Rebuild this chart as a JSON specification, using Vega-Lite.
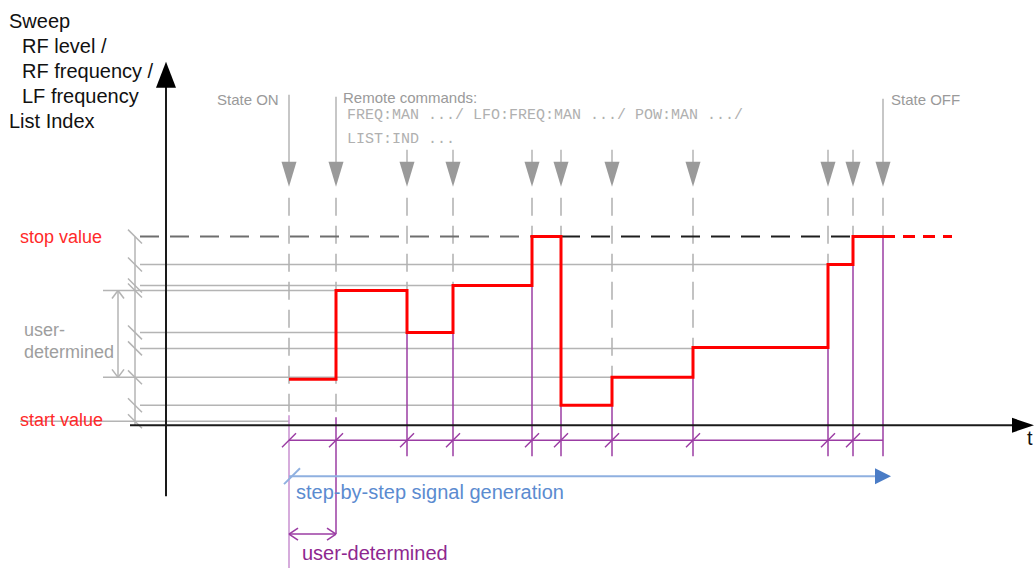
{
  "$schema": "https://vega.github.io/schema/vega-lite/v6.json",
  "width": 1034,
  "height": 569,
  "autosize": {"type": "fit", "contains": "padding"},
  "padding": 0,
  "background": "white",
  "config": {"view": {"stroke": null}},
  "datasets": {
    "segs": [
      {"k": "g", "x": 140, "y": 265, "x2": 828, "y2": 265},
      {"k": "g", "x": 140, "y": 286, "x2": 453, "y2": 286},
      {"k": "g", "x": 103, "y": 291, "x2": 336, "y2": 291},
      {"k": "g", "x": 140, "y": 333, "x2": 407, "y2": 333},
      {"k": "g", "x": 140, "y": 349, "x2": 693, "y2": 349},
      {"k": "g", "x": 103, "y": 378, "x2": 612, "y2": 378},
      {"k": "g", "x": 140, "y": 406, "x2": 561, "y2": 406},
      {"k": "g", "x": 20, "y": 422, "x2": 289, "y2": 422},
      {"k": "g", "x": 135, "y": 237, "x2": 135, "y2": 426},
      {"k": "g", "x": 128, "y": 230, "x2": 142, "y2": 244},
      {"k": "g", "x": 128, "y": 258, "x2": 142, "y2": 272},
      {"k": "g", "x": 128, "y": 279, "x2": 142, "y2": 293},
      {"k": "g", "x": 128, "y": 284, "x2": 142, "y2": 298},
      {"k": "g", "x": 128, "y": 326, "x2": 142, "y2": 340},
      {"k": "g", "x": 128, "y": 342, "x2": 142, "y2": 356},
      {"k": "g", "x": 128, "y": 371, "x2": 142, "y2": 385},
      {"k": "g", "x": 128, "y": 399, "x2": 142, "y2": 413},
      {"k": "g", "x": 128, "y": 415, "x2": 142, "y2": 429},
      {"k": "g", "x": 118, "y": 291, "x2": 118, "y2": 378},
      {"k": "g", "x": 118, "y": 291, "x2": 112, "y2": 299},
      {"k": "g", "x": 118, "y": 291, "x2": 124, "y2": 299},
      {"k": "g", "x": 118, "y": 378, "x2": 112, "y2": 370},
      {"k": "g", "x": 118, "y": 378, "x2": 124, "y2": 370},
      {"k": "g", "x": 289, "y": 95, "x2": 289, "y2": 165},
      {"k": "g", "x": 336, "y": 97, "x2": 336, "y2": 165},
      {"k": "g", "x": 407, "y": 150, "x2": 407, "y2": 165},
      {"k": "g", "x": 453, "y": 150, "x2": 453, "y2": 165},
      {"k": "g", "x": 532, "y": 150, "x2": 532, "y2": 165},
      {"k": "g", "x": 561, "y": 150, "x2": 561, "y2": 165},
      {"k": "g", "x": 612, "y": 150, "x2": 612, "y2": 165},
      {"k": "g", "x": 693, "y": 150, "x2": 693, "y2": 165},
      {"k": "g", "x": 828, "y": 150, "x2": 828, "y2": 165},
      {"k": "g", "x": 853, "y": 150, "x2": 853, "y2": 165},
      {"k": "g", "x": 883, "y": 99, "x2": 883, "y2": 165},
      {"k": "ed", "x": 289, "y": 198, "x2": 289, "y2": 416},
      {"k": "ed", "x": 336, "y": 198, "x2": 336, "y2": 416},
      {"k": "ed", "x": 407, "y": 198, "x2": 407, "y2": 291},
      {"k": "ed", "x": 453, "y": 198, "x2": 453, "y2": 286},
      {"k": "ed", "x": 532, "y": 198, "x2": 532, "y2": 237},
      {"k": "ed", "x": 561, "y": 198, "x2": 561, "y2": 237},
      {"k": "ed", "x": 612, "y": 198, "x2": 612, "y2": 378},
      {"k": "ed", "x": 693, "y": 198, "x2": 693, "y2": 349},
      {"k": "ed", "x": 828, "y": 198, "x2": 828, "y2": 265},
      {"k": "ed", "x": 853, "y": 198, "x2": 853, "y2": 237},
      {"k": "ed", "x": 883, "y": 198, "x2": 883, "y2": 237},
      {"k": "sd", "x": 140, "y": 237, "x2": 532, "y2": 237},
      {"k": "sd2", "x": 561, "y": 237, "x2": 853, "y2": 237},
      {"k": "p", "x": 407, "y": 333, "x2": 407, "y2": 457},
      {"k": "p", "x": 453, "y": 333, "x2": 453, "y2": 457},
      {"k": "p", "x": 532, "y": 286, "x2": 532, "y2": 457},
      {"k": "p", "x": 561, "y": 406, "x2": 561, "y2": 457},
      {"k": "p", "x": 612, "y": 406, "x2": 612, "y2": 457},
      {"k": "p", "x": 693, "y": 378, "x2": 693, "y2": 457},
      {"k": "p", "x": 828, "y": 349, "x2": 828, "y2": 457},
      {"k": "p", "x": 853, "y": 265, "x2": 853, "y2": 457},
      {"k": "p", "x": 883, "y": 237, "x2": 883, "y2": 457},
      {"k": "p", "x": 336, "y": 418, "x2": 336, "y2": 535},
      {"k": "p", "x": 289, "y": 441, "x2": 883, "y2": 441},
      {"k": "p", "x": 282, "y": 448, "x2": 296, "y2": 434},
      {"k": "p", "x": 329, "y": 448, "x2": 343, "y2": 434},
      {"k": "p", "x": 400, "y": 448, "x2": 414, "y2": 434},
      {"k": "p", "x": 446, "y": 448, "x2": 460, "y2": 434},
      {"k": "p", "x": 525, "y": 448, "x2": 539, "y2": 434},
      {"k": "p", "x": 554, "y": 448, "x2": 568, "y2": 434},
      {"k": "p", "x": 605, "y": 448, "x2": 619, "y2": 434},
      {"k": "p", "x": 686, "y": 448, "x2": 700, "y2": 434},
      {"k": "p", "x": 821, "y": 448, "x2": 835, "y2": 434},
      {"k": "p", "x": 846, "y": 448, "x2": 860, "y2": 434},
      {"k": "p", "x": 289, "y": 535, "x2": 336, "y2": 535},
      {"k": "p", "x": 289, "y": 535, "x2": 298, "y2": 529},
      {"k": "p", "x": 289, "y": 535, "x2": 298, "y2": 541},
      {"k": "p", "x": 336, "y": 535, "x2": 327, "y2": 529},
      {"k": "p", "x": 336, "y": 535, "x2": 327, "y2": 541},
      {"k": "pl", "x": 289, "y": 416, "x2": 289, "y2": 569},
      {"k": "ax", "x": 166, "y": 86, "x2": 166, "y2": 497},
      {"k": "ax", "x": 130, "y": 426, "x2": 1014, "y2": 426},
      {"k": "b", "x": 289, "y": 477, "x2": 877, "y2": 477},
      {"k": "b", "x": 284, "y": 485, "x2": 300, "y2": 469},
      {"k": "rd", "x": 883, "y": 237, "x2": 952, "y2": 237}
    ],
    "steps": [
      {"i": 0, "x": 289, "y": 380}, {"i": 1, "x": 336, "y": 380},
      {"i": 2, "x": 336, "y": 291}, {"i": 3, "x": 407, "y": 291},
      {"i": 4, "x": 407, "y": 333}, {"i": 5, "x": 453, "y": 333},
      {"i": 6, "x": 453, "y": 286}, {"i": 7, "x": 532, "y": 286},
      {"i": 8, "x": 532, "y": 237}, {"i": 9, "x": 561, "y": 237},
      {"i": 10, "x": 561, "y": 406}, {"i": 11, "x": 612, "y": 406},
      {"i": 12, "x": 612, "y": 378}, {"i": 13, "x": 693, "y": 378},
      {"i": 14, "x": 693, "y": 348}, {"i": 15, "x": 828, "y": 348},
      {"i": 16, "x": 828, "y": 265}, {"i": 17, "x": 853, "y": 265},
      {"i": 18, "x": 853, "y": 237}, {"i": 19, "x": 883, "y": 237}
    ],
    "heads": [
      {"k": "gd", "x": 289, "y": 174.5}, {"k": "gd", "x": 336, "y": 174.5},
      {"k": "gd", "x": 407, "y": 174.5}, {"k": "gd", "x": 453, "y": 174.5},
      {"k": "gd", "x": 532, "y": 174.5}, {"k": "gd", "x": 561, "y": 174.5},
      {"k": "gd", "x": 612, "y": 174.5}, {"k": "gd", "x": 693, "y": 174.5},
      {"k": "gd", "x": 828, "y": 174.5}, {"k": "gd", "x": 853, "y": 174.5},
      {"k": "gd", "x": 883, "y": 174.5},
      {"k": "up", "x": 166, "y": 75},
      {"k": "rt", "x": 1023, "y": 426},
      {"k": "br", "x": 883, "y": 477}
    ],
    "texts": [
      {"k": "lab", "t": "Sweep", "x": 9, "y": 28},
      {"k": "lab", "t": "RF level /", "x": 22, "y": 53},
      {"k": "lab", "t": "RF frequency /", "x": 22, "y": 78},
      {"k": "lab", "t": "LF frequency", "x": 22, "y": 103},
      {"k": "lab", "t": "List Index", "x": 9, "y": 128},
      {"k": "lab", "t": "t", "x": 1027, "y": 446},
      {"k": "note", "t": "State ON", "x": 217, "y": 105},
      {"k": "note", "t": "Remote commands:", "x": 343, "y": 103},
      {"k": "note", "t": "State OFF", "x": 891, "y": 105},
      {"k": "mono", "t": "FREQ:MAN .../ LFO:FREQ:MAN .../ POW:MAN .../", "x": 347, "y": 119},
      {"k": "mono", "t": "LIST:IND ...", "x": 347, "y": 143},
      {"k": "red", "t": "stop value", "x": 20, "y": 243},
      {"k": "red", "t": "start value", "x": 20, "y": 427},
      {"k": "ud", "t": "user-", "x": 24, "y": 337},
      {"k": "ud", "t": "determined", "x": 24, "y": 359},
      {"k": "blue", "t": "step-by-step signal generation", "x": 296, "y": 500},
      {"k": "purple", "t": "user-determined", "x": 302, "y": 561}
    ]
  },
  "encoding": {
    "x": {"field": "x", "type": "quantitative", "axis": null, "scale": {"domain": [0, 1034], "nice": false, "zero": false}},
    "y": {"field": "y", "type": "quantitative", "axis": null, "scale": {"domain": [0, 569], "reverse": true, "nice": false, "zero": false}}
  },
  "layer": [
    {"data": {"name": "segs"}, "transform": [{"filter": "datum.k === 'g'"}],
     "mark": {"type": "rule", "color": "#b4b4b4", "strokeWidth": 1.5},
     "encoding": {"x2": {"field": "x2"}, "y2": {"field": "y2"}}},
    {"data": {"name": "segs"}, "transform": [{"filter": "datum.k === 'ed'"}],
     "mark": {"type": "rule", "color": "#b0b0b0", "strokeWidth": 1.5, "strokeDash": [18, 10]},
     "encoding": {"x2": {"field": "x2"}, "y2": {"field": "y2"}}},
    {"data": {"name": "segs"}, "transform": [{"filter": "datum.k === 'sd'"}],
     "mark": {"type": "rule", "color": "#6e6e6e", "strokeWidth": 2, "strokeDash": [19, 11]},
     "encoding": {"x2": {"field": "x2"}, "y2": {"field": "y2"}}},
    {"data": {"name": "segs"}, "transform": [{"filter": "datum.k === 'sd2'"}],
     "mark": {"type": "rule", "color": "#1e1e1e", "strokeWidth": 2, "strokeDash": [19, 11]},
     "encoding": {"x2": {"field": "x2"}, "y2": {"field": "y2"}}},
    {"data": {"name": "segs"}, "transform": [{"filter": "datum.k === 'pl'"}],
     "mark": {"type": "rule", "color": "#c890d0", "strokeWidth": 1.5},
     "encoding": {"x2": {"field": "x2"}, "y2": {"field": "y2"}}},
    {"data": {"name": "segs"}, "transform": [{"filter": "datum.k === 'p'"}],
     "mark": {"type": "rule", "color": "#9b3ca3", "strokeWidth": 1.5},
     "encoding": {"x2": {"field": "x2"}, "y2": {"field": "y2"}}},
    {"data": {"name": "segs"}, "transform": [{"filter": "datum.k === 'ax'"}],
     "mark": {"type": "rule", "color": "#1a1a1a", "strokeWidth": 2},
     "encoding": {"x2": {"field": "x2"}, "y2": {"field": "y2"}}},
    {"data": {"name": "segs"}, "transform": [{"filter": "datum.k === 'b'"}],
     "mark": {"type": "rule", "color": "#8fb0e0", "strokeWidth": 2},
     "encoding": {"x2": {"field": "x2"}, "y2": {"field": "y2"}}},
    {"data": {"name": "steps"},
     "mark": {"type": "line", "color": "#ff0000", "strokeWidth": 3, "strokeJoin": "miter"},
     "encoding": {"order": {"field": "i", "type": "quantitative"}}},
    {"data": {"name": "segs"}, "transform": [{"filter": "datum.k === 'rd'"}],
     "mark": {"type": "rule", "color": "#ff0000", "strokeWidth": 3, "strokeDash": [12, 8]},
     "encoding": {"x2": {"field": "x2"}, "y2": {"field": "y2"}}},
    {"data": {"name": "heads"}, "transform": [{"filter": "datum.k === 'gd'"}],
     "mark": {"type": "point", "filled": true, "opacity": 1, "color": "#9a9a9a", "shape": "M-0.6,-1L0.6,-1L0,1Z", "size": 625}},
    {"data": {"name": "heads"}, "transform": [{"filter": "datum.k === 'up'"}],
     "mark": {"type": "point", "filled": true, "opacity": 1, "color": "#000000", "shape": "M0,-1L0.77,1L-0.77,1Z", "size": 676}},
    {"data": {"name": "heads"}, "transform": [{"filter": "datum.k === 'rt'"}],
     "mark": {"type": "point", "filled": true, "opacity": 1, "color": "#000000", "shape": "M1,0L-1,-0.68L-1,0.68Z", "size": 484}},
    {"data": {"name": "heads"}, "transform": [{"filter": "datum.k === 'br'"}],
     "mark": {"type": "point", "filled": true, "opacity": 1, "color": "#4a7cc6", "shape": "M1,0L-1,-1L-1,1Z", "size": 256}},
    {"data": {"name": "texts"}, "transform": [{"filter": "datum.k === 'lab'"}],
     "mark": {"type": "text", "align": "left", "baseline": "alphabetic", "font": "Liberation Sans", "fontSize": 20, "color": "#111111"},
     "encoding": {"text": {"field": "t"}}},
    {"data": {"name": "texts"}, "transform": [{"filter": "datum.k === 'note'"}],
     "mark": {"type": "text", "align": "left", "baseline": "alphabetic", "font": "Liberation Sans", "fontSize": 15, "color": "#9a9a9a"},
     "encoding": {"text": {"field": "t"}}},
    {"data": {"name": "texts"}, "transform": [{"filter": "datum.k === 'mono'"}],
     "mark": {"type": "text", "align": "left", "baseline": "alphabetic", "font": "Liberation Mono", "fontSize": 15, "color": "#b0b0b0"},
     "encoding": {"text": {"field": "t"}}},
    {"data": {"name": "texts"}, "transform": [{"filter": "datum.k === 'red'"}],
     "mark": {"type": "text", "align": "left", "baseline": "alphabetic", "font": "Liberation Sans", "fontSize": 18, "color": "#ff2a2a"},
     "encoding": {"text": {"field": "t"}}},
    {"data": {"name": "texts"}, "transform": [{"filter": "datum.k === 'ud'"}],
     "mark": {"type": "text", "align": "left", "baseline": "alphabetic", "font": "Liberation Sans", "fontSize": 18, "color": "#9e9e9e"},
     "encoding": {"text": {"field": "t"}}},
    {"data": {"name": "texts"}, "transform": [{"filter": "datum.k === 'blue'"}],
     "mark": {"type": "text", "align": "left", "baseline": "alphabetic", "font": "Liberation Sans", "fontSize": 20, "color": "#5b8bd0"},
     "encoding": {"text": {"field": "t"}}},
    {"data": {"name": "texts"}, "transform": [{"filter": "datum.k === 'purple'"}],
     "mark": {"type": "text", "align": "left", "baseline": "alphabetic", "font": "Liberation Sans", "fontSize": 20, "color": "#8e278f"},
     "encoding": {"text": {"field": "t"}}}
  ]
}
